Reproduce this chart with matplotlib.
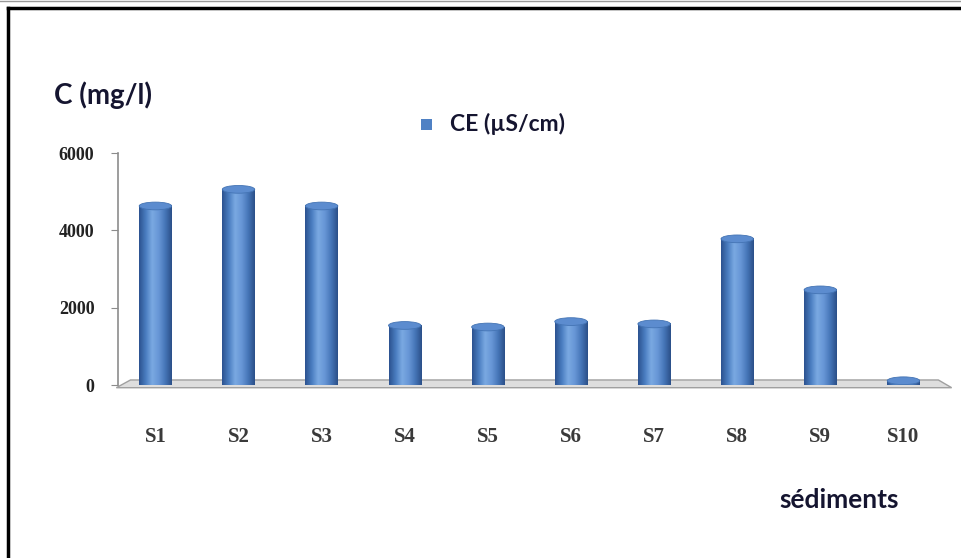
import matplotlib
matplotlib.use("Agg")
import matplotlib.pyplot as plt
import numpy as np
from matplotlib.lines import Line2D
from matplotlib.patches import Polygon, Ellipse, Rectangle
from matplotlib.colors import LinearSegmentedColormap

# Electrical conductivity per sediment sample
samples = ["S1", "S2", "S3", "S4", "S5", "S6", "S7", "S8", "S9", "S10"]
ce_values = [4730, 5160, 4730, 1640, 1600, 1740, 1680, 3880, 2560, 210]
y_ticks = [0, 2000, 4000, 6000]

W, H = 961, 558
fig = plt.figure(figsize=(W / 100, H / 100), dpi=100)
fig.patch.set_facecolor("white")

left_px, right_px = 118, 945
bottom_px, top_px = 385, 153
ax = fig.add_axes([left_px / W, 1 - bottom_px / H,
                   (right_px - left_px) / W, (bottom_px - top_px) / H])
ax.set_facecolor("none")

x = np.arange(len(samples))

# 3D-looking floor under the bars
floor = Polygon([(-0.47, -70), (9.58, -70), (9.42, 130), (-0.3, 130)],
                closed=True, facecolor="#dedede", edgecolor="#a0a0a0",
                linewidth=1.0, clip_on=False, zorder=1)
ax.add_patch(floor)

bar_w = 0.39
bars = ax.bar(x, ce_values, width=bar_w, color="#4f81c4", zorder=2)

# cylinder shading on each bar
cyl = LinearSegmentedColormap.from_list(
    "cyl", ["#2c5390", "#4a7dc0", "#7aa9e2", "#6796d6", "#4676b8", "#2b5089"])
grad = np.linspace(0, 1, 64).reshape(1, -1)
cap_h = 100
for b in bars:
    x0, w, h = b.get_x(), b.get_width(), b.get_height()
    body = max(h - cap_h, 0)
    b.set_height(body)
    ax.imshow(grad, cmap=cyl, aspect="auto", interpolation="bilinear",
              extent=(x0, x0 + w, 0, body), zorder=3)
    ax.add_patch(Ellipse((x0 + w / 2, max(body, cap_h * 0.6)), w,
                         2 * cap_h, facecolor="#5c8ccf",
                         edgecolor="#4474b4", linewidth=0.6, zorder=4))
ax.set_xlim(-0.45, len(samples) - 0.5)
ax.set_ylim(0, 6000)

# axes styling
for s in ["top", "right", "bottom"]:
    ax.spines[s].set_visible(False)
ax.spines["left"].set_color("#8c8c8c")
ax.spines["left"].set_linewidth(1.2)
ax.set_yticks(y_ticks)
ax.set_yticklabels([str(v) for v in y_ticks], fontfamily="Liberation Serif",
                   fontweight="bold", fontsize=13, color="#222222")
ax.tick_params(axis="y", length=5, color="#8c8c8c", pad=12)
ax.set_xticks(x)
ax.set_xticklabels(samples, fontfamily="Liberation Serif", fontsize=15,
                   fontweight="bold", color="#3a3a3a")
ax.tick_params(axis="x", length=0, pad=30)

# titles and legend
txt_font = ["Lato", "DejaVu Sans"]
fig.text(54 / W, 1 - 95 / H, "C (mg/l)", fontsize=20, fontweight="bold",
         family=txt_font, color="#151530", va="center", ha="left")
fig.text(779 / W, 1 - 500 / H, "sédiments", fontsize=19, fontweight="bold",
         family=txt_font, color="#151530", va="center", ha="left")
fig.add_artist(Rectangle((421 / W, 1 - 130 / H), 11 / W, 11 / H,
                         transform=fig.transFigure, facecolor="#4f81c4",
                         edgecolor="none"))
fig.text(450 / W, 1 - 124 / H, "CE (µS/cm)", fontsize=16.5, fontweight="bold",
         family=txt_font, color="#151530", va="center", ha="left")

# outer frame
fig.add_artist(Line2D([8 / W, 8 / W], [0, 1 - 8 / H], color="black",
                      linewidth=2.5, transform=fig.transFigure))
fig.add_artist(Line2D([8 / W, 1], [1 - 8 / H, 1 - 8 / H], color="black",
                      linewidth=2.5, transform=fig.transFigure))
fig.add_artist(Line2D([0, 1], [1 - 0.8 / H, 1 - 0.8 / H], color="#9a9a9a",
                      linewidth=1.0, transform=fig.transFigure))

fig.savefig("out.png", dpi=100)
